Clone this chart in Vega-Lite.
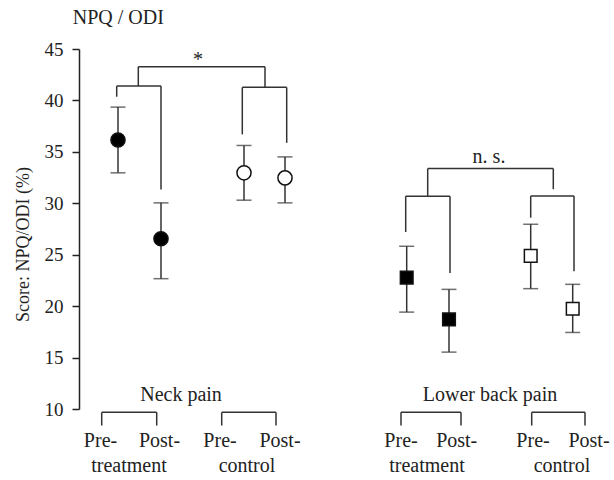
{
  "$schema": "https://vega.github.io/schema/vega-lite/v6.json",
  "autosize": {"type": "none"},
  "padding": {"left": 79, "top": 49, "right": 0, "bottom": 71},
  "width": 535,
  "height": 360,
  "background": "white",
  "config": {"view": {"stroke": null}, "text": {"font": "Liberation Serif", "color": "#222"}},
  "datasets": {
    "points": [
      {"group": "Neck pain", "condition": "Pre-treatment", "pos": 3.9, "mean": 36.15, "lo": 32.96, "hi": 39.35, "fillType": "filled", "shapeType": "circle"},
      {"group": "Neck pain", "condition": "Post-treatment", "pos": 8.2, "mean": 26.55, "lo": 22.67, "hi": 30.04, "fillType": "filled", "shapeType": "circle"},
      {"group": "Neck pain", "condition": "Pre-control", "pos": 16.5, "mean": 32.96, "lo": 30.3, "hi": 35.62, "fillType": "open", "shapeType": "circle"},
      {"group": "Neck pain", "condition": "Post-control", "pos": 20.6, "mean": 32.47, "lo": 30.04, "hi": 34.51, "fillType": "open", "shapeType": "circle"},
      {"group": "Lower back pain", "condition": "Pre-treatment", "pos": 32.77, "mean": 22.77, "lo": 19.42, "hi": 25.82, "fillType": "filled", "shapeType": "square"},
      {"group": "Lower back pain", "condition": "Post-treatment", "pos": 37.0, "mean": 18.71, "lo": 15.53, "hi": 21.63, "fillType": "filled", "shapeType": "square"},
      {"group": "Lower back pain", "condition": "Pre-control", "pos": 45.17, "mean": 24.88, "lo": 21.7, "hi": 27.96, "fillType": "open", "shapeType": "square"},
      {"group": "Lower back pain", "condition": "Post-control", "pos": 49.37, "mean": 19.75, "lo": 17.44, "hi": 22.12, "fillType": "open", "shapeType": "square"}
    ],
    "brackets": [
      {"xL": 3.77, "xR": 8.2, "yTop": 41.4, "yL": 40.36, "yR": 31.34},
      {"xL": 5.93, "xR": 18.6, "yTop": 43.28, "yL": 41.4, "yR": 41.27},
      {"xL": 16.33, "xR": 20.77, "yTop": 41.27, "yL": 36.7, "yR": 35.88},
      {"xL": 32.67, "xR": 37.1, "yTop": 30.69, "yL": 27.21, "yR": 23.22},
      {"xL": 34.87, "xR": 47.43, "yTop": 33.38, "yL": 30.69, "yR": 31.37},
      {"xL": 45.17, "xR": 49.5, "yTop": 30.7, "yL": 28.6, "yR": 23.4},
      {"xL": 2.27, "xR": 7.77, "yTop": 9.68, "yL": 8.39, "yR": 8.39},
      {"xL": 14.27, "xR": 19.7, "yTop": 9.68, "yL": 8.39, "yR": 8.39},
      {"xL": 32.2, "xR": 38.2, "yTop": 9.68, "yL": 8.39, "yR": 8.39},
      {"xL": 45.27, "xR": 50.6, "yTop": 9.68, "yL": 8.39, "yR": 8.39}
    ],
    "labels": [
      {"text": "*", "pos": 11.9, "val": 43.3},
      {"text": "n. s.", "pos": 41.0, "val": 33.93},
      {"text": "Neck pain", "pos": 10.2, "val": 10.82},
      {"text": "Lower back pain", "pos": 41.1, "val": 10.82},
      {"text": "Pre-", "pos": 2.15, "val": 6.28},
      {"text": "Post-", "pos": 8.05, "val": 6.28},
      {"text": "treatment", "pos": 5.0, "val": 3.84},
      {"text": "Pre-", "pos": 14.1, "val": 6.28},
      {"text": "Post-", "pos": 20.1, "val": 6.28},
      {"text": "control", "pos": 16.8, "val": 3.84},
      {"text": "Pre-", "pos": 32.2, "val": 6.28},
      {"text": "Post-", "pos": 37.77, "val": 6.28},
      {"text": "treatment", "pos": 34.8, "val": 3.84},
      {"text": "Pre-", "pos": 45.4, "val": 6.28},
      {"text": "Post-", "pos": 51.0, "val": 6.28},
      {"text": "control", "pos": 48.3, "val": 3.84}
    ],
    "heading": [
      {"text": "NPQ / ODI", "pos": -0.63, "val": 47.43}
    ]
  },
  "layer": [
    {
      "data": {"name": "points"},
      "mark": {"type": "rule", "color": "#333", "strokeWidth": 1.5},
      "encoding": {
        "x": {"field": "pos", "type": "quantitative", "scale": {"domain": [0, 53.5], "nice": false, "zero": false}, "axis": null},
        "y": {"field": "lo", "type": "quantitative", "scale": {"domain": [10, 45], "nice": false, "zero": false},
          "axis": {"title": "Score: NPQ/ODI (%)", "values": [10, 15, 20, 25, 30, 35, 40, 45], "grid": false, "domainColor": "#222", "domainWidth": 1.5, "tickColor": "#222", "tickWidth": 1.5, "tickSize": 7, "labelFont": "Liberation Serif", "labelFontSize": 19, "labelColor": "#222", "labelPadding": 9, "titleFont": "Liberation Serif", "titleFontSize": 18, "titleFontWeight": "normal", "titleColor": "#222", "titlePadding": 12, "titleY": 195}},
        "y2": {"field": "hi"}
      }
    },
    {
      "data": {"name": "points"},
      "mark": {"type": "tick", "orient": "horizontal", "color": "#333", "size": 15, "thickness": 1.5},
      "encoding": {"x": {"field": "pos", "type": "quantitative"}, "y": {"field": "lo", "type": "quantitative"}}
    },
    {
      "data": {"name": "points"},
      "mark": {"type": "tick", "orient": "horizontal", "color": "#333", "size": 15, "thickness": 1.5},
      "encoding": {"x": {"field": "pos", "type": "quantitative"}, "y": {"field": "hi", "type": "quantitative"}}
    },
    {
      "data": {"name": "points"},
      "mark": {"type": "point", "filled": false, "stroke": "#111", "strokeWidth": 1.5, "opacity": 1},
      "encoding": {
        "x": {"field": "pos", "type": "quantitative"},
        "y": {"field": "mean", "type": "quantitative"},
        "shape": {"field": "shapeType", "type": "nominal", "scale": {"domain": ["circle", "square"], "range": ["circle", "square"]}, "legend": null},
        "fill": {"field": "fillType", "type": "nominal", "scale": {"domain": ["filled", "open"], "range": ["#000000", "#ffffff"]}, "legend": null},
        "size": {"field": "shapeType", "type": "nominal", "scale": {"domain": ["circle", "square"], "range": [200, 160]}, "legend": null}
      }
    },
    {
      "data": {"name": "brackets"},
      "mark": {"type": "rule", "color": "#333", "strokeWidth": 1.5},
      "encoding": {"x": {"field": "xL", "type": "quantitative"}, "x2": {"field": "xR"}, "y": {"field": "yTop", "type": "quantitative"}}
    },
    {
      "data": {"name": "brackets"},
      "mark": {"type": "rule", "color": "#333", "strokeWidth": 1.5},
      "encoding": {"x": {"field": "xL", "type": "quantitative"}, "y": {"field": "yTop", "type": "quantitative"}, "y2": {"field": "yL"}}
    },
    {
      "data": {"name": "brackets"},
      "mark": {"type": "rule", "color": "#333", "strokeWidth": 1.5},
      "encoding": {"x": {"field": "xR", "type": "quantitative"}, "y": {"field": "yTop", "type": "quantitative"}, "y2": {"field": "yR"}}
    },
    {
      "data": {"name": "labels"},
      "mark": {"type": "text", "fontSize": 20, "align": "center", "baseline": "alphabetic"},
      "encoding": {"x": {"field": "pos", "type": "quantitative"}, "y": {"field": "val", "type": "quantitative"}, "text": {"field": "text"}}
    },
    {
      "data": {"name": "heading"},
      "mark": {"type": "text", "fontSize": 20, "align": "left", "baseline": "alphabetic"},
      "encoding": {"x": {"field": "pos", "type": "quantitative"}, "y": {"field": "val", "type": "quantitative"}, "text": {"field": "text"}}
    }
  ]
}
